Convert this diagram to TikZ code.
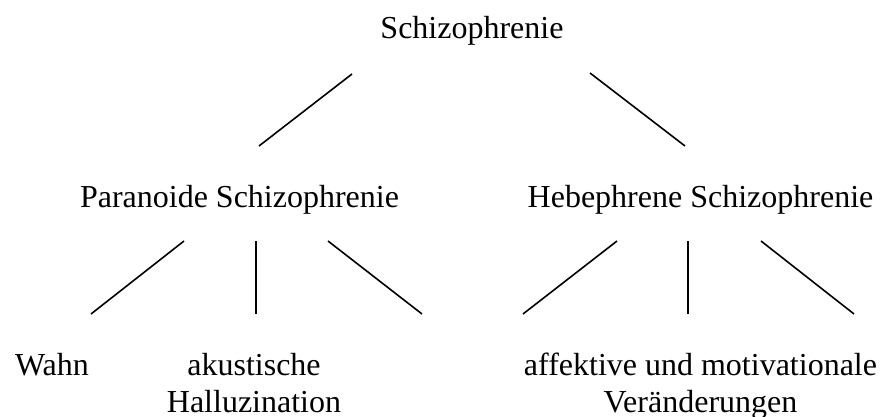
\documentclass[tikz,border=0pt]{standalone}
\usepackage{fontspec}
\usepackage{tikz}
\setmainfont{Liberation Serif}
\tikzset{label/.style = {inner sep = 0pt, anchor = base, font = \fontsize{12pt}{13.9pt}\selectfont}}
% two lines, baseline on the first one
\newcommand{\twolines}[2]{\begin{tabular}[t]{@{}c@{}}#1\\#2\end{tabular}}

\begin{document}
\begin{tikzpicture}[x = 0.375pt, y = -0.375pt, line width = 0.6pt]
\useasboundingbox (0,0) rectangle (881,417);
\node[label] (schizo) at (472,39) {Schizophrenie};
\node[label] (para) at (239.5,207) {Paranoide Schizophrenie};
\node[label] (hebe) at (700.5,207) {Hebephrene Schizophrenie};
\node[label] (wahn) at (52,375) {Wahn};
\node[label] (halluz) at (254,375) {\twolines{akustische}{Halluzination}};
\node[label] (affekt) at (700.5,375) {\twolines{affektive und motivationale}{Ver\"anderungen}};
\coordinate (schizo-l) at (352,74);
\coordinate (schizo-r) at (590,73);
\coordinate (para-t) at (259,146);
\coordinate (hebe-t) at (685,146);
\coordinate (para-l) at (184,241);
\coordinate (para-m) at (256,241);
\coordinate (para-r) at (328,241);
\coordinate (wahn-t) at (91,314);
\coordinate (halluz-t) at (256,314);
\coordinate (para-x) at (422,314);
\coordinate (hebe-l) at (617,241);
\coordinate (hebe-m) at (688,241);
\coordinate (hebe-r) at (761,241);
\coordinate (hebe-x) at (523,314);
\coordinate (affekt-t) at (688,314);
\coordinate (hebe-y) at (854,314);
\draw (schizo-l) -- (para-t);
\draw (schizo-r) -- (hebe-t);
\draw (para-l) -- (wahn-t);
\draw (para-m) -- (halluz-t);
\draw (para-r) -- (para-x);
\draw (hebe-l) -- (hebe-x);
\draw (hebe-m) -- (affekt-t);
\draw (hebe-r) -- (hebe-y);
\end{tikzpicture}
\end{document}
